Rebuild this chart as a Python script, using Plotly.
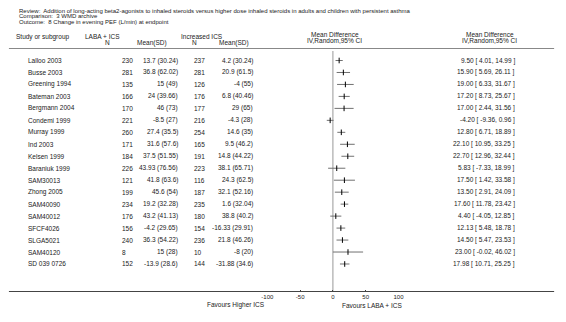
import plotly.graph_objects as go

# ---------------- data ----------------
studies = ["Lalloo 2003", "Busse 2003", "Greening 1994", "Bateman 2003", "Bergmann 2004",
           "Condemi 1999", "Murray 1999", "Ind 2003", "Kelsen 1999", "Baraniuk 1999",
           "SAM30013", "Zhong 2005", "SAM40090", "SAM40012", "SFCF4026", "SLGA5021",
           "SAM40120", "SD 039 0726"]
laba_n = [230, 281, 135, 166, 170, 221, 260, 171, 184, 226, 121, 199, 234, 176, 156, 240, 8, 152]
laba_mean = [13.7, 36.8, 15, 24, 46, -8.5, 27.4, 31.6, 37.5, 43.93, 41.8, 45.6, 19.2, 43.2, -4.2, 36.3, 15, -13.9]
laba_sd = [30.24, 62.02, 49, 39.66, 73, 27, 35.5, 57.6, 51.55, 76.56, 63.6, 54, 32.28, 41.13, 29.65, 54.22, 28, 28.6]
ics_n = [237, 281, 126, 176, 177, 216, 254, 165, 191, 223, 116, 187, 235, 180, 154, 236, 10, 144]
ics_mean = [4.2, 20.9, -4, 6.8, 29, -4.3, 14.6, 9.5, 14.8, 38.1, 24.3, 32.1, 1.6, 38.8, -16.33, 21.8, -8, -31.88]
ics_sd = [30.24, 61.5, 55, 40.46, 65, 28, 35, 46.2, 44.22, 65.71, 62.5, 52.16, 32.04, 40.2, 29.91, 46.26, 20, 34.6]
md = [9.50, 15.90, 19.00, 17.20, 17.00, -4.20, 12.80, 22.10, 22.70, 5.83, 17.50, 13.50, 17.60, 4.40, 12.13, 14.50, 23.00, 17.98]
ci_lo = [4.01, 5.69, 6.33, 8.73, 2.44, -9.36, 6.71, 10.95, 12.96, -7.33, 1.42, 2.91, 11.78, -4.05, 5.48, 5.47, -0.02, 10.71]
ci_hi = [14.99, 26.11, 31.67, 25.67, 31.56, 0.96, 18.89, 33.25, 32.44, 18.99, 33.58, 24.09, 23.42, 12.85, 18.78, 23.53, 46.02, 25.25]
tick_vals = [-100, -50, 0, 50, 100]
tick_text = ["-100", "-50", "0", "50", "100"]

title_lines = [
    "Review:  Addition of long-acting beta2-agonists to inhaled steroids versus higher dose inhaled steroids in adults and children with persistent asthma",
    "Comparison:  3 WMD archive",
    "Outcome:  8 Change in evening PEF (L/min) at endpoint",
]

# ---------------- layout constants ----------------
W, H = 566, 322
FONT = "Liberation Sans, Arial, sans-serif"
TXT = "#222222"
FS_T = 6
FS = 6.5
ROW0, ROWSTEP = 60.5, 11.97
rows = list(range(len(studies)))
y_top = -ROW0 / ROWSTEP
y_bot = (H - ROW0) / ROWSTEP


def px(x):
    return x / W


def py(y):
    return 1 - y / H


def fmt(v):
    return f"{v:g}"


fig = go.Figure()
fig.add_trace(go.Scatter(
    x=md, y=rows, mode="markers",
    marker=dict(symbol="line-ns", size=4, color="black", line=dict(width=1, color="black")),
    error_x=dict(type="data", symmetric=False,
                 array=[h - m for h, m in zip(ci_hi, md)],
                 arrayminus=[m - l for m, l in zip(md, ci_lo)],
                 color="#707070", thickness=1, width=0),
    showlegend=False, hoverinfo="skip", cliponaxis=False,
))

ann = []


def add(text, x, y, xanchor="left", yref="paper", size=FS):
    ann.append(dict(text=text, x=px(x), xref="paper", y=(py(y) if yref == "paper" else y), yref=yref,
                    xanchor=xanchor, yanchor="middle", showarrow=False, borderpad=0,
                    font=dict(family=FONT, size=size, color=TXT)))


# title lines
for i, t in enumerate(title_lines):
    add(t, 12, 10.5 + i * 6, size=FS_T)

# headers
add("Study or subgroup", 9, 36.7)
add("LABA + ICS", 99, 36.7, "center")
add("N", 104, 42.8, "center")
add("Mean(SD)", 165, 42.8, "right")
add("Increased ICS", 200, 36.7, "center")
add("N", 193, 42.8, "center")
add("Mean(SD)", 249, 42.8, "right")
add("Mean Difference", 336, 34.2, "center")
add("IV,Random,95% CI", 336, 41, "center")
add("Mean Difference", 494, 34.2, "center")
add("IV,Random,95% CI", 494, 41, "center")

# rows
for i, s in enumerate(studies):
    add(s, 21, i, "left", "y")
    add(str(laba_n[i]), 117, i, "left", "y")
    add(f"{fmt(laba_mean[i])} ({fmt(laba_sd[i])})", 177, i, "right", "y")
    add(str(ics_n[i]), 191, i, "left", "y")
    add(f"{fmt(ics_mean[i])} ({fmt(ics_sd[i])})", 253, i, "right", "y")
    add(f"{md[i]:.2f} [ {ci_lo[i]:.2f}, {ci_hi[i]:.2f} ]", 521, i, "right", "y")

# favours
add("Favours Higher ICS", 266, 305, "right")
add("Favours LABA + ICS", 342, 305, "left")

shapes = [
    dict(type="line", xref="paper", yref="paper", x0=px(3), x1=px(560), y0=py(48.5), y1=py(48.5),
         line=dict(color="#888888", width=1)),
    dict(type="line", xref="paper", yref="paper", x0=px(3), x1=px(560), y0=py(291.5), y1=py(291.5),
         line=dict(color="#444444", width=1)),
    dict(type="line", xref="x", yref="paper", x0=0, x1=0, y0=py(291.5), y1=py(51),
         line=dict(color="#999999", width=1), layer="below"),
]

fig.update_layout(
    width=W, height=H, margin=dict(l=0, r=0, t=0, b=0),
    paper_bgcolor="white", plot_bgcolor="white",
    font=dict(family=FONT, size=FS, color=TXT),
    xaxis=dict(domain=[px(267), px(401)], range=[-100, 100], anchor="free", position=py(291.5),
               showgrid=False, zeroline=False, showline=False,
               ticks="inside", ticklen=2, tickcolor="#444444", tickwidth=1,
               tickvals=tick_vals, ticktext=tick_text,
               tickfont=dict(family=FONT, size=6, color=TXT), fixedrange=True),
    yaxis=dict(domain=[0, 1], range=[y_bot, y_top], visible=False, fixedrange=True),
    annotations=ann, shapes=shapes,
)

fig.write_html("out.html", config={"displayModeBar": False, "staticPlot": True},
               post_script="document.body.style.margin='0';document.body.style.padding='0';")
